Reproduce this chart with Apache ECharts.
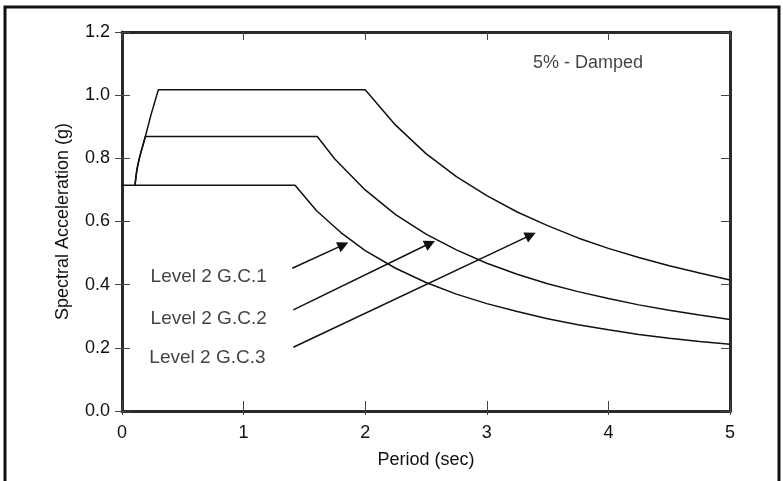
<!DOCTYPE html>
<html>
<head>
<meta charset="utf-8">
<script src="https://cdn.jsdelivr.net/npm/echarts@6/dist/echarts.min.js"></script>
<style>
html,body{margin:0;padding:0;background:#fff;}
#c{width:783px;height:481px;}
</style>
</head>
<body>
<div id="c"></div>
<script>
// ---- data ----
const xTicks = [0, 1, 2, 3, 4, 5];
const yTicks = [0.0, 0.2, 0.4, 0.6, 0.8, 1.0, 1.2];

const gc1Period = [0.107, 0.115, 0.123, 0.142, 0.192, 0.24, 0.299, 2.0, 2.25, 2.5, 2.75, 3.0, 3.25, 3.5, 3.75, 4.0, 4.25, 4.5, 4.75, 5.0];
const gc1Accel  = [0.715, 0.742, 0.765, 0.800, 0.869, 0.940, 1.017, 1.017, 0.905, 0.815, 0.742, 0.682, 0.630, 0.587, 0.548, 0.515, 0.486, 0.460, 0.437, 0.415];

const gc2Period = [0.107, 0.115, 0.123, 0.142, 0.192, 1.606, 1.75, 2.0, 2.25, 2.5, 2.75, 3.0, 3.25, 3.5, 3.75, 4.0, 4.25, 4.5, 4.75, 5.0];
const gc2Accel  = [0.715, 0.742, 0.765, 0.800, 0.869, 0.869, 0.798, 0.700, 0.622, 0.560, 0.510, 0.468, 0.433, 0.403, 0.378, 0.356, 0.336, 0.319, 0.304, 0.290];

const gc3Period = [0, 1.423, 1.6, 1.8, 2.0, 2.25, 2.5, 2.75, 3.0, 3.25, 3.5, 3.75, 4.0, 4.25, 4.5, 4.75, 5.0];
const gc3Accel  = [0.715, 0.715, 0.634, 0.565, 0.508, 0.452, 0.407, 0.370, 0.340, 0.315, 0.292, 0.273, 0.257, 0.242, 0.230, 0.220, 0.211];

const seriesNames = ['Level 2 G.C.1', 'Level 2 G.C.2', 'Level 2 G.C.3'];
// label anchor (left edge) in data coords
const labelPeriod = [0.235, 0.235, 0.225];
const labelAccel  = [0.425, 0.2935, 0.170];
// arrows: start -> tip in data coords
const arrowStartPeriod = [1.400, 1.409, 1.409];
const arrowStartAccel  = [0.452, 0.320, 0.202];
const arrowTipPeriod   = [1.820, 2.533, 3.361];
const arrowTipAccel    = [0.526, 0.531, 0.557];

const noteText = '5% - Damped';
const notePeriod = 4.285;
const noteAccel = 1.102;

const xName = 'Period (sec)';
const yName = 'Spectral Acceleration (g)';

// ---- chart ----
const FONT = '"Liberation Sans", Arial, Helvetica, sans-serif';
const INK = '#111111';
const AX = '#2a2a2a';
const zip = (a, b) => a.map((v, i) => [v, b[i]]);

const chart = echarts.init(document.getElementById('c'), null, {renderer: 'canvas'});

const baseX = {type: 'value', min: 0, max: 5, interval: 1, splitLine: {show: false}};
const baseY = {type: 'value', min: 0, max: 1.2, interval: 0.2, splitLine: {show: false}};

const option = {
  backgroundColor: '#fff',
  animation: false,
  grid: {left: 122, right: 53, top: 32, bottom: 70, containLabel: false},
  xAxis: [
    Object.assign({}, baseX, {
      position: 'bottom',
      name: xName, nameLocation: 'middle', nameGap: 40,
      nameTextStyle: {fontFamily: FONT, fontSize: 18, color: INK},
      axisLine: {show: true, onZero: false, lineStyle: {color: AX, width: 3}},
      axisTick: {show: true, inside: true, length: 10, lineStyle: {color: '#444', width: 1}},
      axisLabel: {show: true, margin: 13, fontFamily: FONT, fontSize: 18, color: INK,
        formatter: v => String(v)}
    }),
    Object.assign({}, baseX, {
      position: 'top',
      axisLine: {show: true, onZero: false, lineStyle: {color: AX, width: 3}},
      axisTick: {show: true, inside: true, length: 8, lineStyle: {color: '#444', width: 1}},
      axisLabel: {show: false}
    }),
    Object.assign({}, baseX, {
      position: 'bottom',
      axisLine: {show: false, onZero: false},
      axisTick: {show: true, inside: false, length: 4, lineStyle: {color: '#444', width: 1}},
      axisLabel: {show: false}
    })
  ],
  yAxis: [
    Object.assign({}, baseY, {
      position: 'left',
      name: yName, nameLocation: 'middle', nameGap: 50,
      nameTextStyle: {fontFamily: FONT, fontSize: 18, color: INK},
      axisLine: {show: true, onZero: false, lineStyle: {color: AX, width: 3}},
      axisTick: {show: true, inside: false, length: 7, lineStyle: {color: '#444', width: 1}},
      axisLabel: {show: true, margin: 12, fontFamily: FONT, fontSize: 18, color: INK,
        formatter: v => v.toFixed(1)}
    }),
    Object.assign({}, baseY, {
      position: 'left',
      axisLine: {show: false, onZero: false},
      axisTick: {show: true, inside: true, length: 8, lineStyle: {color: '#444', width: 1}},
      axisLabel: {show: false}
    }),
    Object.assign({}, baseY, {
      position: 'right',
      axisLine: {show: true, onZero: false, lineStyle: {color: AX, width: 3}},
      axisTick: {show: true, inside: true, length: 9, lineStyle: {color: '#444', width: 1}},
      axisLabel: {show: false}
    })
  ],
  series: [
    {name: seriesNames[0], type: 'line', data: zip(gc1Period, gc1Accel), showSymbol: false, symbol: 'none',
      lineStyle: {color: INK, width: 1.5}, z: 3},
    {name: seriesNames[1], type: 'line', data: zip(gc2Period, gc2Accel), showSymbol: false, symbol: 'none',
      lineStyle: {color: INK, width: 1.5}, z: 3},
    {name: seriesNames[2], type: 'line', data: zip(gc3Period, gc3Accel), showSymbol: false, symbol: 'none',
      lineStyle: {color: INK, width: 1.5}, z: 3},
    {
      name: 'labels', type: 'scatter', symbolSize: 0, silent: true,
      data: seriesNames.map((n, i) => ({value: [labelPeriod[i], labelAccel[i]], name: n})),
      label: {show: true, position: 'right', distance: 0, formatter: p => p.name,
        fontFamily: FONT, fontSize: 19, color: INK},
      markLine: {
        silent: true, animation: false,
        symbol: ['none', 'triangle'], symbolSize: 11,
        label: {show: false},
        emphasis: {disabled: true},
        lineStyle: {color: INK, width: 1.5, type: 'solid'},
        itemStyle: {color: INK},
        data: arrowStartPeriod.map((s, i) => [
          {coord: [s, arrowStartAccel[i]]},
          {coord: [arrowTipPeriod[i], arrowTipAccel[i]]}
        ])
      }
    },
    {
      name: 'note', type: 'scatter', symbolSize: 0, silent: true,
      data: [{value: [notePeriod, noteAccel], name: noteText}],
      label: {show: true, position: 'left', distance: 0, formatter: p => p.name,
        fontFamily: FONT, fontSize: 18, color: INK}
    }
  ],
  graphic: [
    {type: 'rect', shape: {x: 5, y: 7, width: 774, height: 480}, style: {fill: 'none', stroke: '#111', lineWidth: 3}, silent: true}
  ]
};
chart.setOption(option);
</script>
</body>
</html>
